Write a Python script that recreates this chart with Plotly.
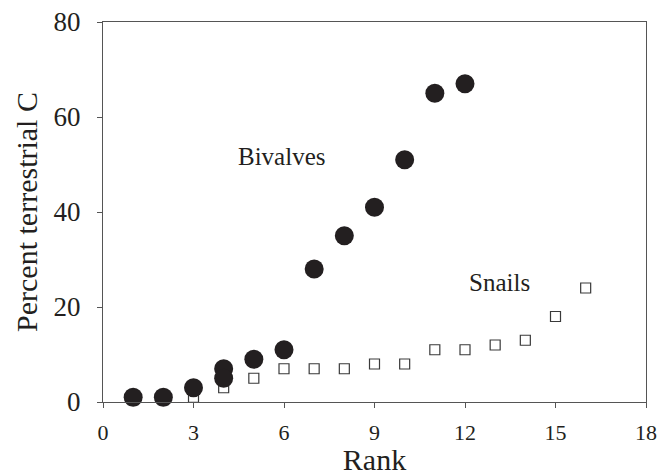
import plotly.graph_objects as go

# Bivalves (filled circles): rank and percent terrestrial carbon
bivalve_rank = [1, 2, 3, 4, 4, 5, 6, 7, 8, 9, 10, 11, 12]
bivalve_pct = [1, 1, 3, 7, 5, 9, 11, 28, 35, 41, 51, 65, 67]

# Snails (open squares)
snail_rank = [1, 2, 3, 4, 5, 6, 7, 8, 9, 10, 11, 12, 13, 14, 15, 16]
snail_pct = [0.5, 0.5, 1, 3, 5, 7, 7, 7, 8, 8, 11, 11, 12, 13, 18, 24]

x_ticks = [0, 3, 6, 9, 12, 15, 18]
y_ticks = [0, 20, 40, 60, 80]

serif = "Liberation Serif, Times New Roman, serif"
ink = "#231f20"
axis_col = "#555555"

fig = go.Figure()

fig.add_trace(go.Scatter(
    x=snail_rank, y=snail_pct, mode="markers", name="Snails",
    marker=dict(symbol="square-open", size=10, color="#3a3a3a",
                line=dict(width=1.2, color="#3a3a3a")),
    cliponaxis=False,
))
fig.add_trace(go.Scatter(
    x=bivalve_rank, y=bivalve_pct, mode="markers", name="Bivalves",
    marker=dict(symbol="circle", size=19, color=ink,
                line=dict(width=0)),
    cliponaxis=False,
))

fig.add_annotation(x=5.92, y=51.6, text="Bivalves", showarrow=False,
                   font=dict(family=serif, size=25, color=ink))
fig.add_annotation(x=13.16, y=25.1, text="Snails", showarrow=False,
                   font=dict(family=serif, size=25, color=ink))

fig.update_layout(
    width=660, height=476,
    margin=dict(l=103, r=14, t=22, b=74),
    paper_bgcolor="white", plot_bgcolor="white",
    showlegend=False,
    font=dict(family=serif, color=ink),
)

fig.update_xaxes(
    range=[0, 18], tickvals=x_ticks, ticktext=[str(v) for v in x_ticks],
    showgrid=False, zeroline=False, automargin=False,
    showline=True, linecolor=axis_col, linewidth=1.3, mirror=True,
    ticks="outside", ticklen=5, tickcolor=axis_col, tickwidth=1.3,
    ticklabelstandoff=5,
    tickfont=dict(family=serif, size=22, color=ink),
    title=dict(text="Rank", font=dict(family=serif, size=30, color=ink),
               standoff=6),
)
fig.update_yaxes(
    range=[0, 80], tickvals=y_ticks, ticktext=[str(v) for v in y_ticks],
    showgrid=False, zeroline=False, automargin=False,
    showline=True, linecolor=axis_col, linewidth=1.3, mirror=True,
    ticks="outside", ticklen=5, tickcolor=axis_col, tickwidth=1.3,
    ticklabelstandoff=11,
    tickfont=dict(family=serif, size=27, color=ink),
    title=dict(text="Percent terrestrial C",
               font=dict(family=serif, size=30, color=ink), standoff=6),
)

fig.write_html("out.html")
